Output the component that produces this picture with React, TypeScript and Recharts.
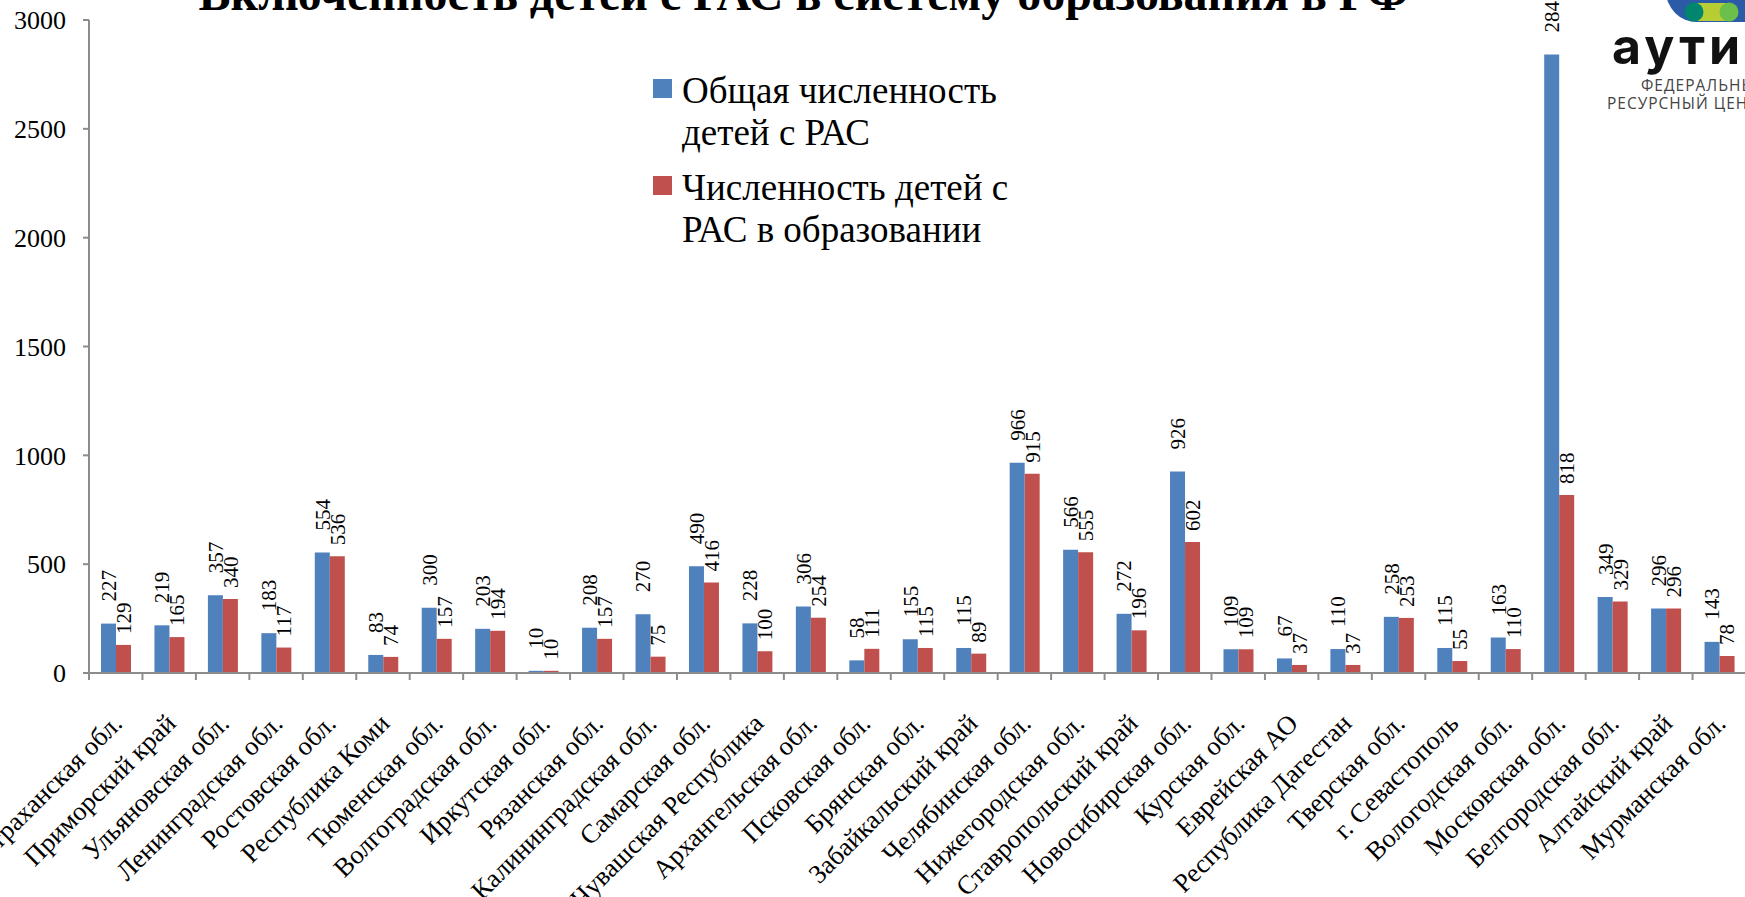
import React from 'react';
import { BarChart, Bar, XAxis, YAxis, LabelList } from 'recharts';

const regions = [
  'Астраханская обл.', 'Приморский край', 'Ульяновская обл.', 'Ленинградская обл.', 'Ростовская обл.',
  'Республика Коми', 'Тюменская обл.', 'Волгоградская обл.', 'Иркутская обл.', 'Рязанская обл.',
  'Калининградская обл.', 'Самарская обл.', 'Чувашская Республика', 'Архангельская обл.', 'Псковская обл.',
  'Брянская обл.', 'Забайкальский край', 'Челябинская обл.', 'Нижегородская обл.', 'Ставропольский край',
  'Новосибирская обл.', 'Курская обл.', 'Еврейская АО', 'Республика Дагестан', 'Тверская обл.',
  'г. Севастополь', 'Вологодская обл.', 'Московская обл.', 'Белгородская обл.', 'Алтайский край',
  'Мурманская обл.',
];
const totalChildren = [227, 219, 357, 183, 554, 83, 300, 203, 10, 208, 270, 490, 228, 306, 58, 155, 115, 966, 566, 272, 926, 109, 67, 110, 258, 115, 163, 2842, 349, 296, 143];
const childrenInEducation = [129, 165, 340, 117, 536, 74, 157, 194, 10, 157, 75, 416, 100, 254, 111, 115, 89, 915, 555, 196, 602, 109, 37, 37, 253, 55, 110, 818, 329, 296, 78];
const yTicks = [0, 500, 1000, 1500, 2000, 2500, 3000];
const seriesNames = ['Общая численность детей с РАС', 'Численность детей с РАС в образовании'];
const chartTitle = 'Включенность детей с РАС в систему образования в РФ';

const data = regions.map((region, i) => ({
  region,
  total: totalChildren[i],
  edu: childrenInEducation[i],
}));

const SERIF = '"Liberation Serif", "Times New Roman", serif';
const BLUE = '#4F81BD';
const RED = '#C0504D';
const AXIS_COLOR = '#8c8c8c';
const seriesColors = [BLUE, RED];

const CHART_W = 1750;
const CHART_H = 897;
const MARGIN = { top: 20, right: 4, left: 0, bottom: 0 };
const Y_W = 89;
const X_H = 224;
const PLOT_W = CHART_W - MARGIN.left - MARGIN.right - Y_W;
const BAND = PLOT_W / regions.length;
const AXIS_Y = CHART_H - MARGIN.bottom - X_H;

const XTick = (props: any) => {
  const { payload, index } = props;
  const cx = payload.coordinate;
  const left = cx - BAND / 2;
  return (
    <g>
      <line x1={left} x2={left} y1={AXIS_Y} y2={AXIS_Y + 7} stroke={AXIS_COLOR} strokeWidth={2} />
      {index === regions.length - 1 ? (
        <line x1={cx + BAND / 2} x2={cx + BAND / 2} y1={AXIS_Y} y2={AXIS_Y + 7} stroke={AXIS_COLOR} strokeWidth={2} />
      ) : null}
      <text
        transform={`translate(${cx + 8},${AXIS_Y + 52}) rotate(-45)`}
        textAnchor="end"
        fontSize={26.5}
        fontFamily={SERIF}
        fill="#000"
      >
        {payload.value}
      </text>
    </g>
  );
};

const makeLabel = (gap: number) => (props: any) => {
  const { x, y, width, value } = props;
  const cx = Number(x) + Number(width) / 2;
  return (
    <text
      transform={`translate(${cx},${Number(y) - gap}) rotate(-90)`}
      dy="0.35em"
      fontSize={21}
      fontFamily={SERIF}
      fill="#000"
    >
      {value}
    </text>
  );
};

const LegendBox = () => (
  <div
    style={{
      position: 'absolute',
      left: 653,
      top: 70,
      width: 375,
      fontFamily: SERIF,
      fontSize: 37,
      lineHeight: '42px',
      color: '#000',
    }}
  >
    {seriesNames.map((name, i) => (
      <div key={i} style={{ position: 'relative', paddingLeft: 29, marginBottom: i === 0 ? 13 : 0 }}>
        <span
          style={{
            position: 'absolute',
            left: 0,
            top: 9,
            width: 19,
            height: 19,
            background: seriesColors[i],
          }}
        />
        {name}
      </div>
    ))}
  </div>
);

const Logo = () => (
  <svg width={150} height={125} style={{ position: 'absolute', left: 1600, top: 0 }}>
    <rect x={66} y={-40} width={120} height={62} rx={31} fill="#2b5aa7" />
    <rect x={94} y={3} width={35} height={18} fill="#b7cd34" />
    <circle cx={94} cy={12} r={9.5} fill="#00866e" />
    <circle cx={129} cy={12} r={9.5} fill="#6bbf4b" />
    <text x={12} y={64} fontFamily="Inter, 'Noto Sans', sans-serif" fontWeight={700} fontSize={50} letterSpacing={4} fill="#111">
      аутизм
    </text>
    <text x={41} y={91} fontFamily="'Open Sans', 'Noto Sans', sans-serif" fontSize={15.5} letterSpacing={1} fill="#444">
      ФЕДЕРАЛЬНЫЙ
    </text>
    <text x={7} y={109} fontFamily="'Open Sans', 'Noto Sans', sans-serif" fontSize={15.5} letterSpacing={1} fill="#444">
      РЕСУРСНЫЙ ЦЕНТР
    </text>
  </svg>
);

export default function App() {
  return (
    <div
      style={{
        position: 'absolute',
        left: 0,
        top: 0,
        width: 1745,
        height: 897,
        overflow: 'hidden',
        background: '#fff',
      }}
    >
      <BarChart width={CHART_W} height={CHART_H} data={data} margin={MARGIN} barGap={0} barSize={15}>
        <XAxis
          dataKey="region"
          interval={0}
          height={X_H}
          tick={<XTick />}
          tickLine={false}
          axisLine={{ stroke: AXIS_COLOR, strokeWidth: 2 }}
        />
        <YAxis
          width={Y_W}
          domain={[0, 3000]}
          ticks={yTicks}
          tickSize={6}
          tickMargin={17}
          tick={{ fontSize: 26, fill: '#000', fontFamily: SERIF }}
          tickLine={{ stroke: AXIS_COLOR, strokeWidth: 2 }}
          axisLine={{ stroke: AXIS_COLOR, strokeWidth: 2 }}
        />
        <Bar dataKey="total" name={seriesNames[0]} fill={BLUE} isAnimationActive={false}>
          <LabelList dataKey="total" content={makeLabel(22)} />
        </Bar>
        <Bar dataKey="edu" name={seriesNames[1]} fill={RED} isAnimationActive={false}>
          <LabelList dataKey="edu" content={makeLabel(11)} />
        </Bar>
      </BarChart>
      <div
        style={{
          position: 'absolute',
          left: 0,
          width: 1607,
          top: -33,
          textAlign: 'center',
          fontFamily: SERIF,
          fontWeight: 700,
          fontSize: 48,
          lineHeight: '54px',
          whiteSpace: 'nowrap',
          color: '#000',
        }}
      >
        {chartTitle}
      </div>
      <LegendBox />
      <Logo />
    </div>
  );
}
